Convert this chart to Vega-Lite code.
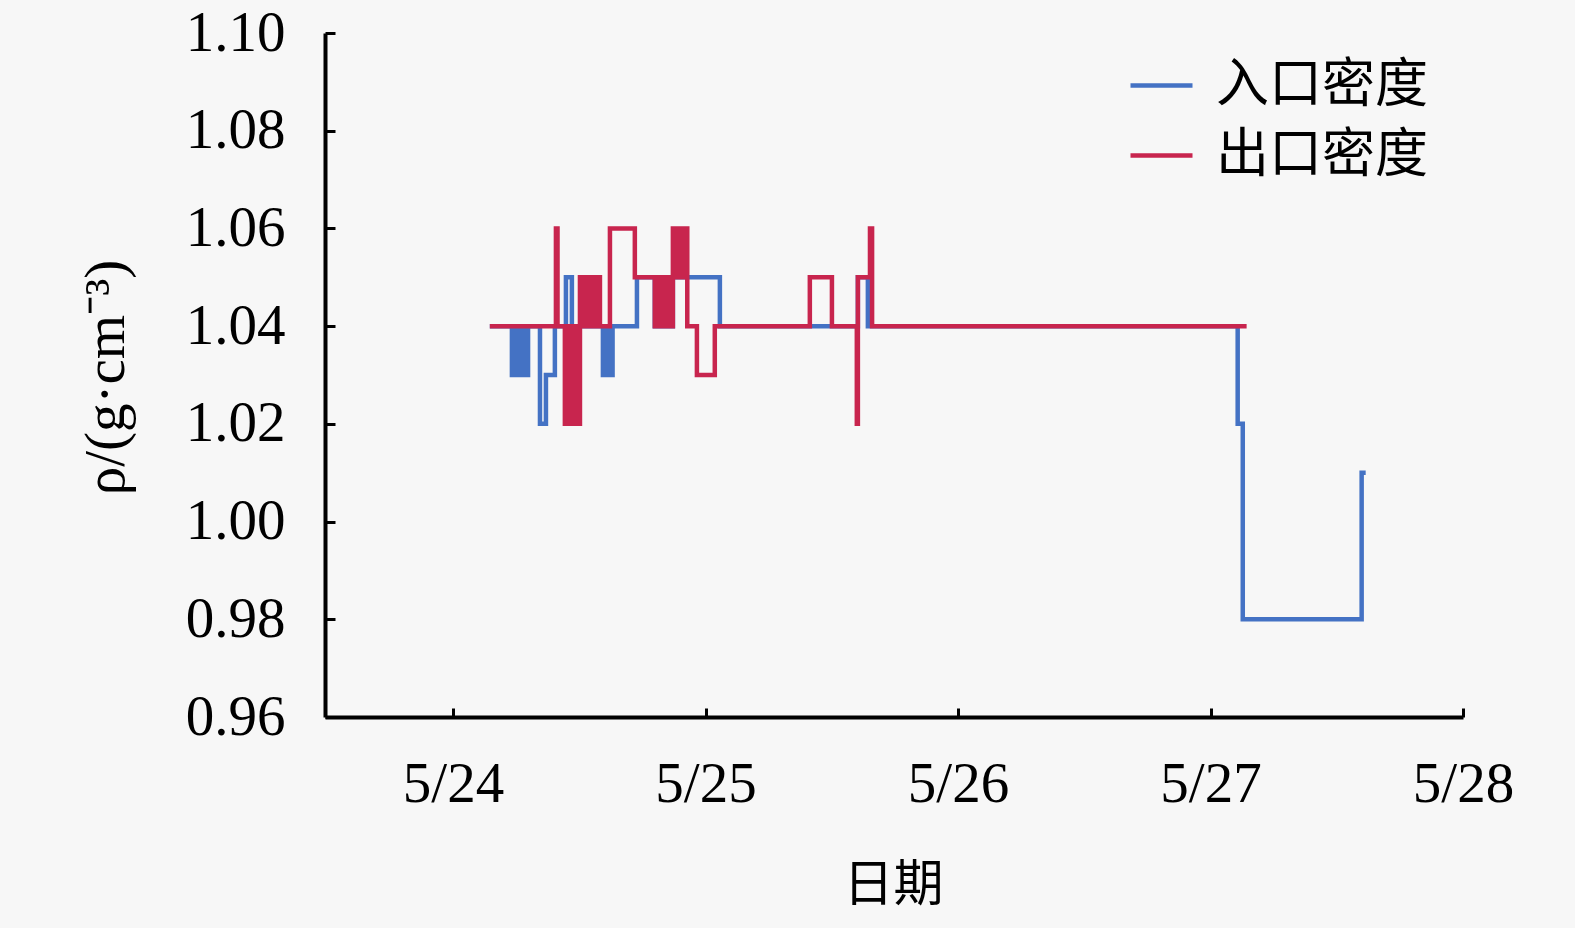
{
  "$schema": "https://vega.github.io/schema/vega-lite/v6.json",
  "width": 1138,
  "height": 684,
  "autosize": "none",
  "padding": {"left": 325, "top": 33, "right": 112, "bottom": 211},
  "background": "#f7f7f7",
  "config": {"view": {"stroke": null}},
  "data": {
    "values": [
      {"series": "入口密度", "time": "2021-05-24T03:30:00Z", "density": 1.04},
      {"series": "入口密度", "time": "2021-05-24T05:36:00Z", "density": 1.03},
      {"series": "入口密度", "time": "2021-05-24T05:50:00Z", "density": 1.04},
      {"series": "入口密度", "time": "2021-05-24T06:04:00Z", "density": 1.03},
      {"series": "入口密度", "time": "2021-05-24T06:18:00Z", "density": 1.04},
      {"series": "入口密度", "time": "2021-05-24T06:32:00Z", "density": 1.03},
      {"series": "入口密度", "time": "2021-05-24T06:46:00Z", "density": 1.04},
      {"series": "入口密度", "time": "2021-05-24T06:56:00Z", "density": 1.03},
      {"series": "入口密度", "time": "2021-05-24T07:08:00Z", "density": 1.04},
      {"series": "入口密度", "time": "2021-05-24T08:16:00Z", "density": 1.02},
      {"series": "入口密度", "time": "2021-05-24T08:50:00Z", "density": 1.03},
      {"series": "入口密度", "time": "2021-05-24T09:41:00Z", "density": 1.04},
      {"series": "入口密度", "time": "2021-05-24T10:44:00Z", "density": 1.05},
      {"series": "入口密度", "time": "2021-05-24T11:18:00Z", "density": 1.04},
      {"series": "入口密度", "time": "2021-05-24T14:15:00Z", "density": 1.03},
      {"series": "入口密度", "time": "2021-05-24T14:30:00Z", "density": 1.04},
      {"series": "入口密度", "time": "2021-05-24T14:45:00Z", "density": 1.03},
      {"series": "入口密度", "time": "2021-05-24T15:10:00Z", "density": 1.04},
      {"series": "入口密度", "time": "2021-05-24T17:29:00Z", "density": 1.05},
      {"series": "入口密度", "time": "2021-05-24T19:11:00Z", "density": 1.04},
      {"series": "入口密度", "time": "2021-05-24T19:26:00Z", "density": 1.05},
      {"series": "入口密度", "time": "2021-05-24T19:41:00Z", "density": 1.04},
      {"series": "入口密度", "time": "2021-05-24T19:56:00Z", "density": 1.05},
      {"series": "入口密度", "time": "2021-05-24T20:11:00Z", "density": 1.04},
      {"series": "入口密度", "time": "2021-05-24T20:26:00Z", "density": 1.05},
      {"series": "入口密度", "time": "2021-05-24T20:41:00Z", "density": 1.04},
      {"series": "入口密度", "time": "2021-05-24T20:54:00Z", "density": 1.05},
      {"series": "入口密度", "time": "2021-05-25T01:22:00Z", "density": 1.04},
      {"series": "入口密度", "time": "2021-05-25T14:29:00Z", "density": 1.05},
      {"series": "入口密度", "time": "2021-05-25T15:26:00Z", "density": 1.04},
      {"series": "入口密度", "time": "2021-05-27T02:35:00Z", "density": 1.02},
      {"series": "入口密度", "time": "2021-05-27T03:04:00Z", "density": 0.98},
      {"series": "入口密度", "time": "2021-05-27T14:22:00Z", "density": 1.01},
      {"series": "入口密度", "time": "2021-05-27T14:45:00Z", "density": 1.01},
      {"series": "出口密度", "time": "2021-05-24T03:30:00Z", "density": 1.04},
      {"series": "出口密度", "time": "2021-05-24T09:47:00Z", "density": 1.06},
      {"series": "出口密度", "time": "2021-05-24T09:56:00Z", "density": 1.04},
      {"series": "出口密度", "time": "2021-05-24T10:38:00Z", "density": 1.02},
      {"series": "出口密度", "time": "2021-05-24T10:52:00Z", "density": 1.04},
      {"series": "出口密度", "time": "2021-05-24T11:06:00Z", "density": 1.02},
      {"series": "出口密度", "time": "2021-05-24T11:20:00Z", "density": 1.04},
      {"series": "出口密度", "time": "2021-05-24T11:34:00Z", "density": 1.02},
      {"series": "出口密度", "time": "2021-05-24T11:48:00Z", "density": 1.04},
      {"series": "出口密度", "time": "2021-05-24T11:56:00Z", "density": 1.02},
      {"series": "出口密度", "time": "2021-05-24T12:04:00Z", "density": 1.05},
      {"series": "出口密度", "time": "2021-05-24T12:18:00Z", "density": 1.04},
      {"series": "出口密度", "time": "2021-05-24T12:32:00Z", "density": 1.05},
      {"series": "出口密度", "time": "2021-05-24T12:46:00Z", "density": 1.04},
      {"series": "出口密度", "time": "2021-05-24T13:00:00Z", "density": 1.05},
      {"series": "出口密度", "time": "2021-05-24T13:14:00Z", "density": 1.04},
      {"series": "出口密度", "time": "2021-05-24T13:28:00Z", "density": 1.05},
      {"series": "出口密度", "time": "2021-05-24T13:42:00Z", "density": 1.04},
      {"series": "出口密度", "time": "2021-05-24T13:50:00Z", "density": 1.05},
      {"series": "出口密度", "time": "2021-05-24T13:58:00Z", "density": 1.04},
      {"series": "出口密度", "time": "2021-05-24T14:55:00Z", "density": 1.06},
      {"series": "出口密度", "time": "2021-05-24T17:17:00Z", "density": 1.05},
      {"series": "出口密度", "time": "2021-05-24T19:11:00Z", "density": 1.04},
      {"series": "出口密度", "time": "2021-05-24T19:26:00Z", "density": 1.05},
      {"series": "出口密度", "time": "2021-05-24T19:41:00Z", "density": 1.04},
      {"series": "出口密度", "time": "2021-05-24T19:56:00Z", "density": 1.05},
      {"series": "出口密度", "time": "2021-05-24T20:11:00Z", "density": 1.04},
      {"series": "出口密度", "time": "2021-05-24T20:26:00Z", "density": 1.05},
      {"series": "出口密度", "time": "2021-05-24T20:41:00Z", "density": 1.04},
      {"series": "出口密度", "time": "2021-05-24T20:54:00Z", "density": 1.06},
      {"series": "出口密度", "time": "2021-05-24T21:08:00Z", "density": 1.05},
      {"series": "出口密度", "time": "2021-05-24T21:22:00Z", "density": 1.06},
      {"series": "出口密度", "time": "2021-05-24T21:36:00Z", "density": 1.05},
      {"series": "出口密度", "time": "2021-05-24T21:50:00Z", "density": 1.06},
      {"series": "出口密度", "time": "2021-05-24T22:02:00Z", "density": 1.05},
      {"series": "出口密度", "time": "2021-05-24T22:08:00Z", "density": 1.06},
      {"series": "出口密度", "time": "2021-05-24T22:16:00Z", "density": 1.04},
      {"series": "出口密度", "time": "2021-05-24T23:11:00Z", "density": 1.03},
      {"series": "出口密度", "time": "2021-05-25T00:53:00Z", "density": 1.04},
      {"series": "出口密度", "time": "2021-05-25T09:55:00Z", "density": 1.05},
      {"series": "出口密度", "time": "2021-05-25T12:01:00Z", "density": 1.04},
      {"series": "出口密度", "time": "2021-05-25T14:23:00Z", "density": 1.02},
      {"series": "出口密度", "time": "2021-05-25T14:29:00Z", "density": 1.05},
      {"series": "出口密度", "time": "2021-05-25T15:38:00Z", "density": 1.06},
      {"series": "出口密度", "time": "2021-05-25T15:50:00Z", "density": 1.04},
      {"series": "出口密度", "time": "2021-05-27T03:26:00Z", "density": 1.04}
    ]
  },
  "mark": {"type": "line", "interpolate": "step-after", "strokeWidth": 4.5},
  "encoding": {
    "x": {
      "field": "time",
      "type": "temporal",
      "scale": {
        "type": "utc",
        "domain": [
          {"year": 2021, "month": 5, "date": 23, "hours": 11, "minutes": 50, "utc": true},
          {"year": 2021, "month": 5, "date": 28, "utc": true}
        ]
      },
      "axis": {
        "values": [
          {"year": 2021, "month": 5, "date": 24, "utc": true},
          {"year": 2021, "month": 5, "date": 25, "utc": true},
          {"year": 2021, "month": 5, "date": 26, "utc": true},
          {"year": 2021, "month": 5, "date": 27, "utc": true},
          {"year": 2021, "month": 5, "date": 28, "utc": true}
        ],
        "labelExpr": "utcFormat(datum.value, '%-m/%-d')",
        "grid": false,
        "domainColor": "#000000",
        "domainWidth": 4,
        "tickColor": "#000000",
        "tickWidth": 3,
        "tickSize": -9,
        "labelFont": "Liberation Serif",
        "labelFontSize": 57,
        "labelColor": "#000000",
        "labelPadding": 48,
        "labelFlush": false,
        "labelOverlap": false,
        "title": "日期",
        "titleFont": "Noto Sans CJK SC",
        "titleFontSize": 50,
        "titleFontWeight": "normal",
        "titleColor": "#000000",
        "titleX": 568,
        "titleY": 168,
        "titleAlign": "center",
        "titleBaseline": "middle"
      }
    },
    "y": {
      "field": "density",
      "type": "quantitative",
      "scale": {"domain": [0.96, 1.10], "nice": false, "zero": false},
      "axis": {
        "values": [0.96, 0.98, 1.00, 1.02, 1.04, 1.06, 1.08, 1.10],
        "format": ".2f",
        "grid": false,
        "domainColor": "#000000",
        "domainWidth": 4,
        "tickColor": "#000000",
        "tickWidth": 3,
        "tickSize": -10,
        "labelFont": "Liberation Serif",
        "labelFontSize": 57,
        "labelColor": "#000000",
        "labelPadding": 50,
        "labelFlush": false,
        "labelOverlap": false,
        "title": "ρ/(g·cm⁻³)",
        "titleFont": "Liberation Serif",
        "titleFontSize": 57,
        "titleFontWeight": "normal",
        "titleColor": "#000000",
        "titleAngle": -90,
        "titleX": -219,
        "titleY": 344,
        "titleAlign": "center",
        "titleBaseline": "middle"
      }
    },
    "color": {
      "field": "series",
      "type": "nominal",
      "scale": {"domain": ["入口密度", "出口密度"], "range": ["#4472c4", "#c8254e"]},
      "legend": {
        "orient": "none",
        "legendX": 803,
        "legendY": 19,
        "title": null,
        "padding": 0,
        "symbolType": "stroke",
        "symbolSize": 3844,
        "symbolStrokeWidth": 4.5,
        "labelFont": "Noto Sans CJK SC",
        "labelFontSize": 53,
        "labelColor": "#000000",
        "labelOffset": 21,
        "rowPadding": 9,
        "labelLimit": 400
      }
    }
  }
}
